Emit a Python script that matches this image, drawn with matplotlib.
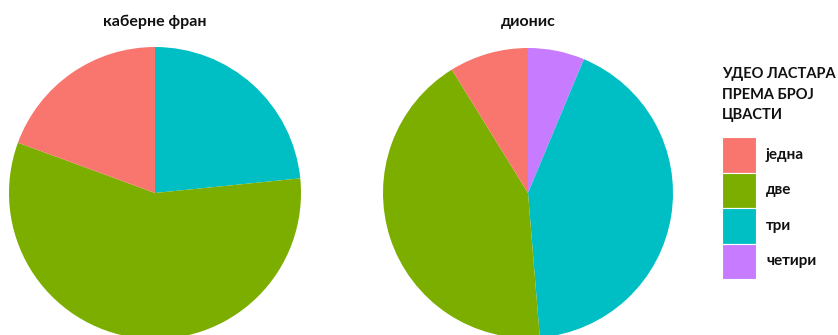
import matplotlib
matplotlib.use("Agg")
import matplotlib.pyplot as plt
from matplotlib.patches import Rectangle

plt.rcParams['font.family'] = ['Lato', 'DejaVu Sans']

categories = ['једна', 'две', 'три', 'четири']
colors = ['#F8766D', '#7CAE00', '#00BFC4', '#C77CFF']
cultivars = ['каберне фран', 'дионис']
kaberne_fran = [19.4, 57.2, 23.4, 0.0]
dionis = [8.8, 42.5, 42.4, 6.3]
legend_title = 'УДЕО ЛАСТАРА\nПРЕМА БРОЈ\nЦВАСТИ'

W, H = 838, 335
fig = plt.figure(figsize=(W / 100, H / 100), dpi=100)

def add_pie(cx, cy, r, values, title):
    ax = fig.add_axes([(cx - r) / W, (H - cy - r) / H, 2 * r / W, 2 * r / H])
    # ggplot order: clockwise from top, last category first
    vals = values[::-1]
    cols = colors[::-1]
    ax.pie(vals, colors=cols, startangle=90, counterclock=False, radius=1,
           wedgeprops=dict(linewidth=0))
    ax.set_xlim(-1, 1)
    ax.set_ylim(-1, 1)
    ax.set_aspect('equal')
    ax.axis('off')
    fig.text(cx / W, 1 - 22 / H, title, ha='center', va='center',
             fontsize=11.5, fontweight='bold', color='#111111')

add_pie(155, 193, 146, kaberne_fran, cultivars[0])
add_pie(528, 193, 145, dionis, cultivars[1])

# legend
fig.text(722 / W, 1 - 67 / H, legend_title, ha='left', va='top',
         fontsize=10.5, fontweight='bold', color='#111111', linespacing=1.6)
key_top = 137
key_h = 35.5
for i, (cat, col) in enumerate(zip(categories, colors)):
    y0 = key_top + i * key_h
    fig.patches.append(Rectangle((722 / W, 1 - (y0 + key_h) / H), 34 / W, key_h / H,
                                 transform=fig.transFigure, facecolor=col,
                                 edgecolor='white', linewidth=0.8))
    fig.text(766 / W, 1 - (y0 + key_h / 2) / H, cat, ha='left', va='center',
             fontsize=11, fontweight='bold', color='#111111')

fig.savefig('out.png', dpi=100)
